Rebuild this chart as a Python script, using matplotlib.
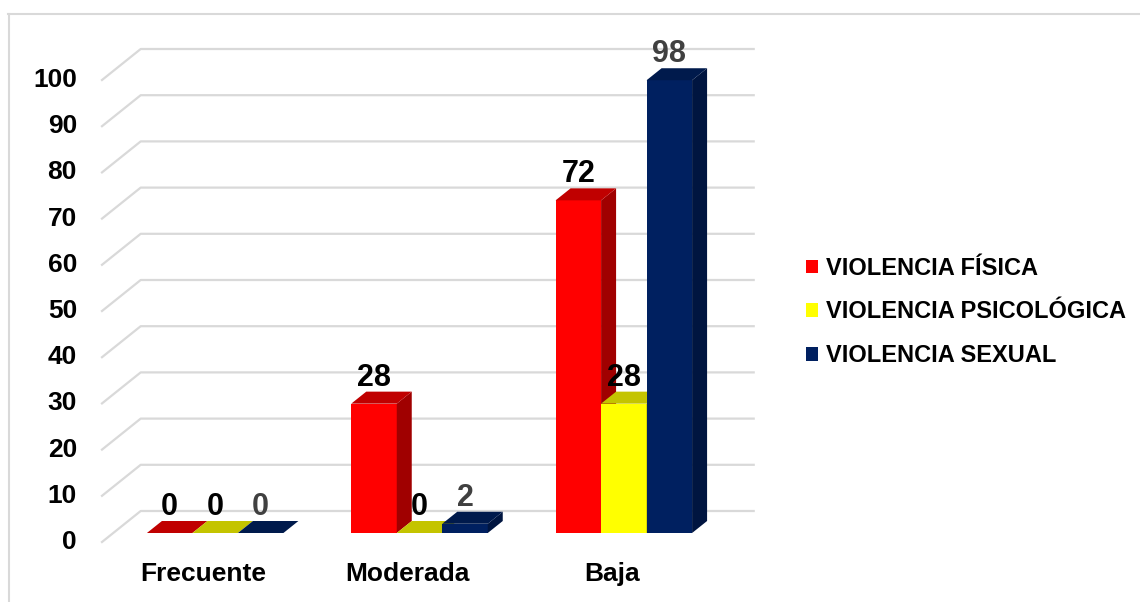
import numpy as np
import matplotlib.pyplot as plt
from matplotlib.patches import Polygon, Patch
from matplotlib.lines import Line2D

# Data
categorias = ['Frecuente', 'Moderada', 'Baja']
series = ['VIOLENCIA FÍSICA', 'VIOLENCIA PSICOLÓGICA', 'VIOLENCIA SEXUAL']
fisica = [0, 28, 72]
psicologica = [0, 0, 28]
sexual = [0, 2, 98]
valores = [fisica, psicologica, sexual]
yticks = [0, 10, 20, 30, 40, 50, 60, 70, 80, 90, 100]

# Colours: front, side, top
colores = [('#FF0000', '#A00000', '#C00000'),
           ('#FFFF00', '#A8A800', '#C4C400'),
           ('#002060', '#001540', '#001A4C')]
label_colors = ['black', 'black', '#404040']

plt.rcParams['font.family'] = ['Liberation Sans', 'DejaVu Sans']
plt.rcParams['font.weight'] = 'bold'

W, H = 1140, 602
fig = plt.figure(figsize=(W / 100, H / 100), dpi=100)

# axes = front plane of the bars
ax_left, ax_right = 113, 726
y0_px, y100_px = 533, 71
ax = fig.add_axes([ax_left / W, 1 - y0_px / H, (ax_right - ax_left) / W, (y0_px - y100_px) / H])
ax.set_xlim(-0.5, 2.5)
ax.set_ylim(0, 100)
ax.axis('off')

# pixels -> data units
ux = 3.0 / (ax_right - ax_left)
uy = 100.0 / (y0_px - y100_px)

# depth vectors (pixels)
bar_d = (15, 12)
back_d = (27.7, 22)
front_d = (-11, -9)

grid_c = '#D9D9D9'
for v in yticks:
    xa, ya = -0.5 + front_d[0] * ux, v + front_d[1] * uy
    xb, yb = -0.5 + back_d[0] * ux, v + back_d[1] * uy
    xc = 2.5 + back_d[0] * ux
    ax.add_line(Line2D([xa, xb, xc], [ya, yb, yb], color=grid_c, lw=1.6,
                       clip_on=False, zorder=1))
    ax.text(-0.5 - 36 * ux, ya, str(v), ha='right', va='center',
            fontsize=19, fontweight='bold', color='black')

bw = 45.5 * ux
dx, dy = bar_d[0] * ux, bar_d[1] * uy
for i in range(len(categorias)):
    for s in range(len(series)):
        v = valores[s][i]
        x0 = i + (s - 1.5) * bw
        x1 = x0 + bw
        cf, cs, ct = colores[s]
        z = 2 + s
        if v > 0:
            ax.add_patch(Polygon([(x0, 0), (x1, 0), (x1, v), (x0, v)], closed=True,
                                 facecolor=cf, edgecolor='none', zorder=z, clip_on=False))
            ax.add_patch(Polygon([(x1, 0), (x1 + dx, dy), (x1 + dx, v + dy), (x1, v)], closed=True,
                                 facecolor=cs, edgecolor='none', zorder=z, clip_on=False))
        ax.add_patch(Polygon([(x0, v), (x1, v), (x1 + dx, v + dy), (x0 + dx, v + dy)], closed=True,
                             facecolor=ct, edgecolor='none', zorder=z, clip_on=False))
        ax.text((x0 + x1) / 2, v + dy - 1 * uy, str(v), ha='center', va='bottom',
                fontsize=22, fontweight='bold', color=label_colors[s], zorder=10)

for i, c in enumerate(categorias):
    ax.text(i - 12 * ux, -(574 - y0_px) * uy, c, ha='center', va='center',
            fontsize=19, fontweight='bold', color='black')

handles = [Patch(facecolor=colores[s][0], edgecolor='none') for s in range(len(series))]
fig.legend(handles, series, loc='center left', bbox_to_anchor=(806 / W, 1 - 312 / H),
           frameon=False, handlelength=0.5, handleheight=0.5,
           handletextpad=0.35, labelspacing=0.88, borderpad=0, borderaxespad=0,
           prop={'weight': 'bold', 'size': 17})

# outer border
fig.add_artist(Line2D([8 / W, 1], [1 - 13.5 / H, 1 - 13.5 / H], color=grid_c, lw=1.5,
                      transform=fig.transFigure))
fig.add_artist(Line2D([8.5 / W, 8.5 / W], [0, 1 - 13.5 / H], color=grid_c, lw=1.5,
                      transform=fig.transFigure))

fig.savefig('out.png', dpi=100)
